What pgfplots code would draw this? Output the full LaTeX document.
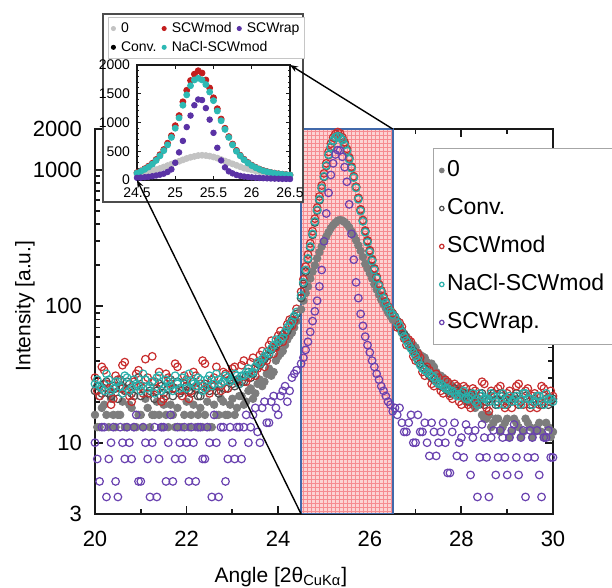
\documentclass[border=0pt]{standalone}
\usepackage{fontspec}
\setmainfont{Liberation Sans}
\usepackage{pgfplots}
\pgfplotsset{compat=1.18}
\usepackage{pgfplotstable}
\usetikzlibrary{arrows.meta}

\definecolor{cZero}{RGB}{125,125,125}
\definecolor{cConv}{RGB}{75,75,75}
\definecolor{cMod}{RGB}{200,45,45}
\definecolor{cNacl}{RGB}{40,175,170}
\definecolor{cRap}{RGB}{105,65,175}
\definecolor{cZeroL}{RGB}{195,195,195}
\definecolor{iMod}{RGB}{195,30,30}
\definecolor{iNacl}{RGB}{45,185,180}
\definecolor{iRap}{RGB}{90,50,165}
\definecolor{shadeFill}{RGB}{252,212,212}
\definecolor{shadeGrid}{RGB}{246,140,145}
\definecolor{shadeEdge}{RGB}{65,105,170}
\definecolor{axisCol}{RGB}{25,25,25}

% baseline and tails outside the peak window (two interleaved scans)
\pgfplotstableread{
x zero conv mod nacl rap
20.0 16 24 30 27 10
20.1 13 22 22 26 5.2
20.2 19 27 34 24 13
20.3 13 23 25 29 7.6
20.4 16 26 21 25 13
20.5 16 21 29 28 4
20.6 20 25 37 23 10
20.7 13 28 24 30 13
20.8 18 23 20 25 7.6
20.9 13 26 32 27 16
21.0 16 22 26 24 5.2
21.1 21 29 41 29 10
21.2 13 24 23 26 4
21.3 16 21 28 23 13
21.4 16 27 33 31 7.6
21.5 19 23 21 25 13
21.6 13 25 30 28 10
21.7 16 22 25 24 5.2
21.8 18 28 36 27 13
21.9 13 24 22 30 7.6
22.0 20 26 29 25 10
22.1 16 23 24 28 13
22.2 13 25 31 26 5.2
22.3 18 22 27 29 13
22.4 16 27 38 25 7.6
22.5 13 24 23 31 10
22.6 19 26 30 27 16
22.7 16 23 26 29 4
22.8 20 28 33 28 13
22.9 16 25 25 30 7.6
23.0 21 27 35 29 10
23.1 18 29 28 31 13
23.2 22 28 37 31 7.6
23.3 20 31 28 33 16
23.4 25 30 39 32 13
23.5 23 35 31 36 18
23.6 29 37 44 38 10
23.7 28 41 36 43 20
23.8 35 44 52 45 14
23.9 33 50 45 52 22
24.0 43 53 61 55 16
24.1 47 62 55 59 24
24.2 57 66 74 70 20
24.3 64 79 72 77 30
24.4 78 88 96 91 34
26.6 73 78 70 76 16
26.7 64 66 71 65 14
26.8 60 57 52 56 12
26.9 53 50 55 49 16
27.0 50 44 40 43 10
27.1 44 38 42 37 12
27.2 42 35 31 34 14
27.3 37 31 34 32 8
27.4 36 29 26 30 12
27.5 31 27 30 27 10
27.6 30 26 23 26 14
27.7 27 24 28 25 6
27.8 26 23 21 24 12
27.9 23 24 26 22 8
28.0 24 22 19 23 10.9
28.1 20 21 25 21 13.6
28.2 22 23 18 22 5.8
28.3 18 20 24 20 12.3
28.4 19 22 20 23 7.8
28.5 15 19 27 21 10.9
28.6 16 21 17 20 4
28.7 14 23 22 22 12.3
28.8 15 20 25 19 7.8
28.9 13 22 19 23 10.9
29.0 15 19 23 21 5.8
29.1 12 21 18 20 12.3
29.2 14 23 26 22 7.8
29.3 11 20 20 19 10.9
29.4 15 22 24 23 4
29.5 13 19 18 21 12.3
29.6 12 21 23 20 7.8
29.7 14 20 19 22 5.8
29.8 11 22 25 19 10.9
29.9 13 19 20 21 12.3
30.0 12 21 22 20 7.8
20.05 13 26 24 29 7.6
20.15 18 23 36 25 13
20.25 16 28 27 32 4
20.35 21 22 19 24 10
20.45 13 25 31 28 5.2
20.55 16 29 25 26 13
20.65 13 24 39 31 7.6
20.75 19 27 22 24 10
20.85 13 22 28 29 13
20.95 16 30 34 26 5.2
21.05 13 25 23 32 13
21.15 18 23 30 25 7.6
21.25 16 28 43 28 10
21.35 20 24 25 30 4
21.45 13 26 20 24 13
21.55 16 22 32 29 5.2
21.65 19 29 27 26 16
21.75 13 25 38 31 7.6
21.85 13 23 24 25 10
21.95 16 27 31 28 13
22.05 13 24 21 32 5.2
22.15 19 28 33 27 10
22.25 16 22 26 30 13
22.35 13 26 40 24 7.6
22.45 20 25 25 29 13
22.55 13 29 29 26 4
22.65 16 24 36 32 10
22.75 21 27 24 27 13
22.85 16 25 32 31 5.2
22.95 19 29 28 28 13
23.05 16 26 36 32 7.6
23.15 22 29 27 27 13
23.25 19 28 40 31 13
23.35 24 33 30 35 10
23.45 21 32 42 33 16
23.55 27 38 35 39 12
23.65 26 39 47 41 18
23.75 32 43 40 46 14
23.85 31 48 56 49 20
23.95 40 51 50 57 18
24.05 45 58 66 57 22
24.15 52 64 60 65 26
24.25 61 71 80 74 24
24.35 70 84 79 85 32
26.55 80 84 79 83 18
26.65 70 70 76 72 18
26.75 63 62 58 60 12
26.85 55 53 57 52 14
26.95 52 47 43 46 10
27.05 46 41 45 40 16
27.15 43 36 33 35 12
27.25 39 33 36 33 10
27.35 38 30 27 31 14
27.45 33 28 32 28 8
27.55 31 26 24 27 12
27.65 28 25 29 25 10
27.75 27 23 22 24 6
27.85 24 25 27 23 14
27.95 25 22 20 22 10
28.05 21 23 26 24 7.8
28.15 23 20 19 21 12.3
28.25 19 22 25 23 10.9
28.35 20 21 21 19 4
28.45 16 23 28 22 13.6
28.55 15 20 18 21 7.8
28.65 13 22 24 23 10.9
28.75 15 19 20 20 5.8
28.85 12 23 26 22 12.3
28.95 14 21 18 19 7.8
29.05 11 20 24 22 10.9
29.15 15 22 21 21 13.6
29.25 13 19 27 20 5.8
29.35 12 23 19 23 12.3
29.45 14 21 25 21 7.8
29.55 11 20 22 19 10.9
29.65 13 22 18 22 12.3
29.75 12 19 26 20 4
29.85 14 21 21 23 10.9
29.95 11 20 24 21 7.8
}\tabBase

% peak window 24.5 -- 26.5
\pgfplotstableread{
x zero conv mod nacl rap
24.50 95 115 128 120 38
24.55 110 146 158 150 42
24.60 125 180 196 185 48
24.65 140 222 240 225 55
24.70 160 270 290 275 65
24.75 180 335 356 340 78
24.80 200 412 440 420 92
24.85 225 505 530 510 110
24.90 250 600 640 610 140
24.95 275 735 770 740 185
25.00 300 890 945 900 300
25.05 325 1070 1120 1080 480
25.10 350 1290 1360 1300 680
25.15 375 1470 1560 1480 920
25.20 395 1630 1730 1640 1120
25.25 410 1730 1840 1740 1300
25.30 425 1780 1900 1770 1400
25.35 430 1750 1860 1740 1390
25.40 425 1670 1740 1660 1250
25.45 415 1540 1600 1530 1050
25.50 400 1390 1430 1380 820
25.55 380 1210 1240 1200 560
25.60 355 1040 1060 1030 340
25.65 330 890 900 880 220
25.70 305 750 755 740 150
25.75 280 620 625 610 115
25.80 255 505 515 500 88
25.85 230 425 430 420 72
25.90 205 355 360 350 60
25.95 190 300 305 295 52
26.00 175 255 258 250 46
26.05 160 218 222 215 40
26.10 145 188 190 185 36
26.15 133 162 165 160 32
26.20 122 144 146 142 29
26.25 112 129 131 128 26
26.30 104 117 119 115 24
26.35 97 107 109 106 22
26.40 90 99 100 98 20
26.45 85 93 94 92 19
26.50 80 88 89 87 17
}\tabPeak

\begin{document}
\begin{tikzpicture}
\path[use as bounding box] (0,0) rectangle (306pt,294pt);

\begin{axis}[
  name=main, at={(47.5pt,37pt)}, anchor=south west,
  scale only axis, width=229pt, height=192.5pt,
  xmin=20, xmax=30, ymode=log, ymin=3, ymax=2000,
  xtick={20,22,...,30}, minor x tick num=1,
  ytick={10,100,1000}, yticklabels={10,100,1000},
  extra y ticks={3,2000}, extra y tick labels={3,2000},
  /pgf/number format/assume math mode=true,
  /pgf/number format/1000 sep={},
  axis line style={axisCol, line width=1.3pt},
  every tick/.style={axisCol, line width=0.9pt},
  major tick length=4pt, minor tick length=2.5pt,
  tick label style={font=\fontsize{11}{13}\selectfont},
  x tick label style={yshift=-5pt},
  y tick label style={xshift=-3pt},
  label style={font=\fontsize{10.5}{12}\selectfont},
  xlabel={Angle [2θ\textsubscript{CuKα}]},
  ylabel={Intensity [a.u.]},
  xlabel style={at={(axis description cs:0.406,-0.164)}, anchor=center},
  ylabel style={at={(axis description cs:-0.153,0.54)}, anchor=center},
  legend style={at={(0.738,0.951)}, anchor=north west, draw=gray!70,
    line width=0.6pt, font=\fontsize{11.5}{13}\selectfont,
    inner xsep=3pt, inner ysep=1.5pt, row sep=0pt,
    nodes={inner xsep=1.5pt, inner ysep=4pt, text height=8.5pt, text depth=2.5pt}},
  legend cell align=left,
  legend image code/.code={\draw[#1] plot coordinates {(0pt,0pt)};},
  legend image post style={mark size=1.1pt},
]
\fill[shadeFill] (axis cs:24.5,3) rectangle (axis cs:26.5,2000);
\draw[shadeGrid, line width=0.4pt, step=2pt] (axis cs:24.5,3) grid (axis cs:26.5,2000);

\addplot[only marks, mark=*, mark size=1.9pt, cZero, forget plot] table[x=x,y=zero]{\tabBase};
\addplot[only marks, mark=o, mark size=1.9pt, cConv, mark options={line width=0.6pt}, forget plot] table[x=x,y=conv]{\tabBase};
\addplot[only marks, mark=o, mark size=1.9pt, cMod, mark options={line width=0.6pt}, forget plot] table[x=x,y=mod]{\tabBase};
\addplot[only marks, mark=o, mark size=1.9pt, cNacl, mark options={line width=0.6pt}, forget plot] table[x=x,y=nacl]{\tabBase};
\addplot[only marks, mark=o, mark size=1.9pt, cRap, mark options={line width=0.6pt}, forget plot] table[x=x,y=rap]{\tabBase};

\addplot[only marks, mark=*, mark size=1.9pt, cZero] table[x=x,y=zero]{\tabPeak};
\addplot[only marks, mark=o, mark size=1.9pt, cConv, mark options={line width=0.6pt}] table[x=x,y=conv]{\tabPeak};
\addplot[only marks, mark=o, mark size=1.9pt, cMod, mark options={line width=0.6pt}] table[x=x,y=mod]{\tabPeak};
\addplot[only marks, mark=o, mark size=1.9pt, cNacl, mark options={line width=0.6pt}] table[x=x,y=nacl]{\tabPeak};
\addplot[only marks, mark=o, mark size=1.9pt, cRap, mark options={line width=0.6pt}] table[x=x,y=rap]{\tabPeak};
\legend{0,Conv.,SCWmod,NaCl-SCWmod,SCWrap.}

\draw[shadeEdge, line width=1pt] (axis cs:24.5,3) rectangle (axis cs:26.5,2000);
\coordinate (sTR) at (axis cs:26.5,2000);
\coordinate (sBL) at (axis cs:24.5,3);
\end{axis}

% inset
\draw[fill=white, draw=gray!60!black, line width=1pt] (51.5pt,193pt) rectangle (151.5pt,287pt);
\begin{axis}[
  name=inset, at={(68.5pt,204pt)}, anchor=south west,
  scale only axis, width=76.5pt, height=57.5pt,
  xmin=24.5, xmax=26.5, ymin=0, ymax=2000,
  xtick={24.5,25,...,26.5}, ytick={0,500,...,2000}, minor y tick num=4,
  /pgf/number format/assume math mode=true,
  /pgf/number format/1000 sep={},
  axis line style={axisCol, line width=0.7pt},
  every tick/.style={axisCol, line width=0.5pt},
  major tick length=2pt, minor tick length=1.2pt,
  tick label style={font=\fontsize{7}{8}\selectfont},
  x tick label style={yshift=-0.5pt},
  legend columns=3,
  legend style={at={(-0.19,1.417)}, anchor=north west, draw=gray!45,
    line width=0.5pt, font=\fontsize{7}{8}\selectfont,
    inner xsep=1.5pt, inner ysep=0.8pt, column sep=2pt,
    nodes={inner xsep=0.8pt, inner ysep=1.3pt, text height=5.3pt, text depth=1.5pt}},
  legend cell align=left,
  legend image code/.code={\draw[#1] plot coordinates {(0pt,0pt)};},
]
\addlegendimage{only marks, mark=*, mark size=1pt, cZeroL}
\addlegendimage{only marks, mark=*, mark size=1pt, iMod}
\addlegendimage{only marks, mark=*, mark size=1pt, iRap}
\addlegendimage{only marks, mark=*, mark size=1pt, black}
\addlegendimage{only marks, mark=*, mark size=1pt, iNacl}
\addplot[only marks, mark=*, mark size=1.5pt, cZeroL, forget plot] table[x=x,y=zero]{\tabPeak};
\addplot[only marks, mark=*, mark size=0.9pt, black, forget plot] table[x=x,y=conv]{\tabPeak};
\addplot[only marks, mark=*, mark size=1.5pt, iMod, forget plot] table[x=x,y=mod]{\tabPeak};
\addplot[only marks, mark=*, mark size=1.5pt, iNacl, forget plot] table[x=x,y=nacl]{\tabPeak};
\addplot[only marks, mark=*, mark size=1.4pt, iRap, forget plot] table[x=x,y=rap]{\tabPeak};
\legend{0,SCWmod,SCWrap,Conv.,{\makebox[0pt][l]{NaCl-SCWmod}}}
\end{axis}

\draw[black, line width=0.7pt, -{Stealth[length=4pt,width=3pt]}] (sTR) -- (inset.north east);
\draw[black, line width=0.7pt, -{Stealth[length=4pt,width=3pt]}] (sBL) -- (inset.south west);
\end{tikzpicture}
\end{document}
